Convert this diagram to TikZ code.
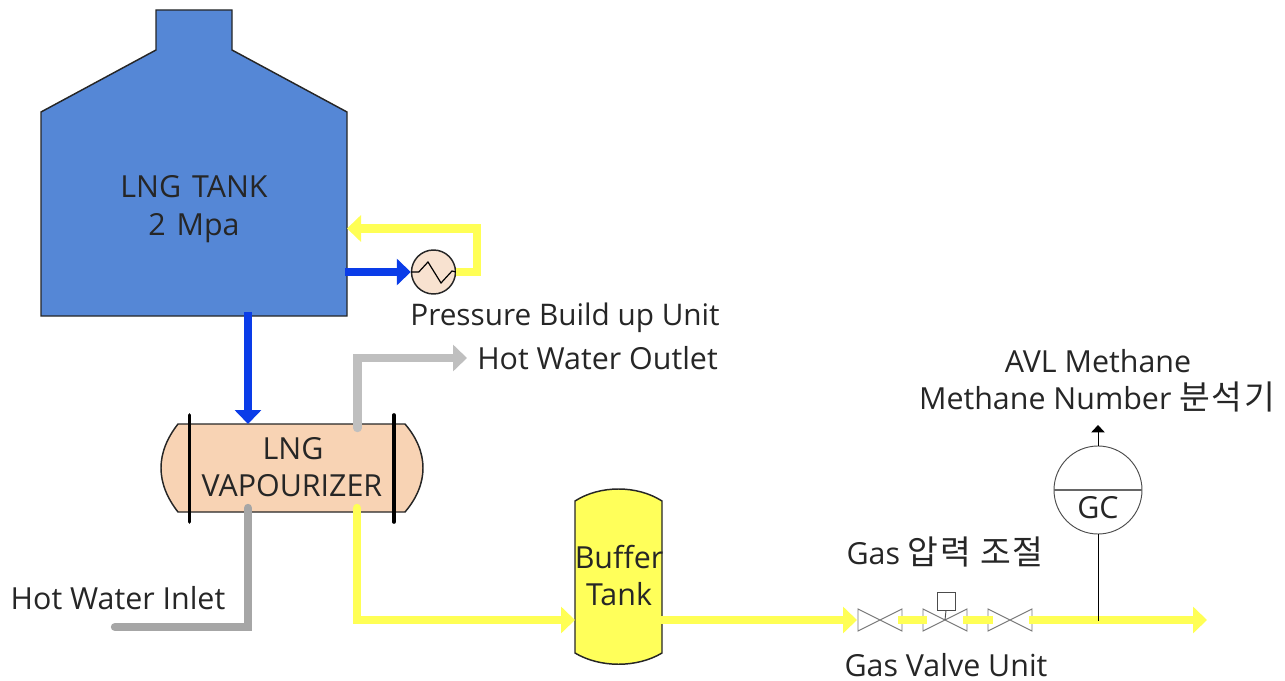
\documentclass[tikz,border=0pt]{standalone}
\usepackage{fontspec}
\setmainfont{Open Sans}
\newfontfamily\cjk[LetterSpace=5]{Noto Sans CJK KR}[Scale=1.1]
\usetikzlibrary{arrows.meta,calc}
\definecolor{tankblue}{HTML}{5587D6}
\definecolor{pipeblue}{HTML}{0A3CE8}
\definecolor{pipeyellow}{HTML}{FFFF55}
\definecolor{pipegrayA}{HTML}{BFBFBF}
\definecolor{pipegrayB}{HTML}{A6A6A6}
\definecolor{peach}{HTML}{F8D3B4}
\definecolor{tankyellow}{HTML}{FFFF5A}
\definecolor{hxfill}{HTML}{F8E2D0}
\definecolor{valvegray}{HTML}{7A7A7A}
\newcommand{\wsp}{\hspace{2.2pt} }
\tikzset{
  x=0.75pt,y=-0.75pt,
  vessel/.style={draw=black!85,line width=1.1pt},
  pipe/.style={line width=6.3pt,line join=miter},
  pipearrow/.style={pipe,-{Triangle[length=10.5pt,width=19.5pt]}},
  thinpipe/.style={line width=5.4pt},
  lbl/.style={inner sep=0pt,anchor=base,font=\fontsize{22.8}{26}\selectfont,text=black!85},
  valvebody/.style={draw=valvegray,line width=0.7pt,fill=white},
  flange/.style={draw=black,line width=2.7pt,line cap=round},
}
\begin{document}
\begin{tikzpicture}
\useasboundingbox (0,0) rectangle (1285,681);
% anchor points
\coordinate (tankBase) at (248,312);
\coordinate (vapTop) at (248,424);
\coordinate (tankSide) at (345,272);
\coordinate (tankReturn) at (347,228.5);
\coordinate (retCorner) at (477,228.5);
\coordinate (hxCorner) at (477,272);
\coordinate (vapGrayOut) at (357.5,428);
\coordinate (grayBend) at (357.5,358);
\coordinate (grayEnd) at (467,358);
\coordinate (vapGrayIn) at (248,508);
\coordinate (inBend) at (248,627);
\coordinate (inEnd) at (115,627);
\coordinate (vapYellow) at (357,508);
\coordinate (yBend) at (357,620);
\coordinate (bufIn) at (575,620);
\coordinate (bufOut) at (660,620);
\coordinate (pipeEnd) at (1207,620);
\coordinate (tap) at (1098,621);
\coordinate (gcArrow) at (1098,425);
% LNG tank
\draw[vessel,fill=tankblue] (156,10) -- (232,10) -- (232,50) -- (347,112) -- (347,316) -- (41,316) -- (41,112) -- (156,50) -- cycle;
% vaporizer
\draw[vessel,fill=peach] (178,424) -- (405,424) .. controls (417,438) and (423,453) .. (423,468) .. controls (423,483) and (417,498) .. (405,512) -- (178,512) .. controls (167,498) and (161,483) .. (161,468) .. controls (161,453) and (167,438) .. (178,424) -- cycle;
\draw[flange] (189.5,415) -- (189.5,522);
\draw[flange] (394,415) -- (394,522);
% buffer tank
\draw[vessel,fill=tankyellow] (575,501) .. controls (600,485) and (637,485) .. (662,501) -- (662,653) .. controls (637,668) and (600,668) .. (575,653) -- cycle;
% heat exchanger
\node[circle,draw=black!85,line width=1.1pt,fill=hxfill,minimum size=33pt,inner sep=0pt] (hx) at (433.5,272) {};
\draw[black,line width=0.9pt] (hx.west) -- ++(8,0) -- (428,262) -- (441,283) -- (452,271) -- (hx.east);
% pipes
\draw[pipearrow,pipeblue] (tankBase) -- (vapTop);
\draw[pipearrow,pipeblue] (tankSide) -- (hx.west);
\draw[pipearrow,pipeyellow] (hx.east) -- (hxCorner) -- (retCorner) -- (tankReturn);
\draw[pipearrow,pipegrayA,line cap=round] (vapGrayOut) -- (grayBend) -- (grayEnd);
\draw[pipe,pipegrayB,line cap=round] (vapGrayIn) -- (inBend) -- (inEnd);
\draw[pipearrow,pipeyellow,line cap=round] (vapYellow) -- (yBend) -- (bufIn);
% valves
\coordinate (v1) at (880,620);
\coordinate (v2) at (945,620);
\coordinate (v3) at (1010,620);
\foreach \v in {v1,v2,v3}{
  \draw[valvebody] ($(\v)+(-22,-11)$) -- ($(\v)+(22,11)$) -- ($(\v)+(22,-11)$) -- ($(\v)+(-22,11)$) -- cycle;
}
\draw[pipearrow,pipeyellow] (bufOut) -- ($(v1)+(-23,0)$);
\draw[thinpipe,pipeyellow] ($(v1)+(18,0)$) -- ($(v2)+(-18,0)$);
\draw[thinpipe,pipeyellow] ($(v2)+(18,0)$) -- ($(v3)+(-17,0)$);
\draw[pipearrow,pipeyellow] ($(v3)+(19,0)$) -- (pipeEnd);
\node[draw=black!70,line width=0.7pt,fill=white,minimum size=13.5pt,inner sep=0pt] (act) at (946,601) {};
\draw[black!70,line width=0.7pt] (act.south) -- (v2);
% GC
\node[circle,draw=black!70,line width=0.7pt,fill=white,minimum size=66pt,inner sep=0pt] (gc) at (1098,490) {};
\draw[black!60,line width=0.8pt] (gc.west) -- (gc.east);
\draw[black,line width=0.7pt] (tap) -- (gc.south);
\draw[black,line width=0.7pt,-{Triangle[length=5.5pt,width=10pt]}] (gc.north) -- (gcArrow);
% labels
\node[lbl] (tankA) at (194,198) {LNG\wsp TANK};
\node[lbl] (tankB) at (194,235) {2\wsp Mpa};
\node[lbl,font=\fontsize{22.3}{26}\selectfont] (pbu) at (565,325) {Pressure Build up Unit};
\node[lbl,anchor=base west] (hwo) at (477,369) {Hot Water Outlet};
\node[lbl] (avlA) at (1098,372) {AVL Methane};
\node[lbl] (avlB) at (1097,409) {Methane Number {\cjk 분석기}};
\node[lbl] (vapA) at (293,459) {LNG};
\node[lbl] (vapB) at (292,496) {VAPOURIZER};
\node[lbl] (bufA) at (619,568) {Buffer};
\node[lbl] (bufB) at (619,605) {Tank};
\node[lbl] (gct) at (1098,518) {GC};
\node[lbl] (gas) at (945,564) {Gas {\cjk 압력 조절}};
\node[lbl] (gvu) at (946,676) {Gas Valve Unit};
\node[lbl] (hwi) at (118,609) {Hot Water Inlet};
\end{tikzpicture}
\end{document}
